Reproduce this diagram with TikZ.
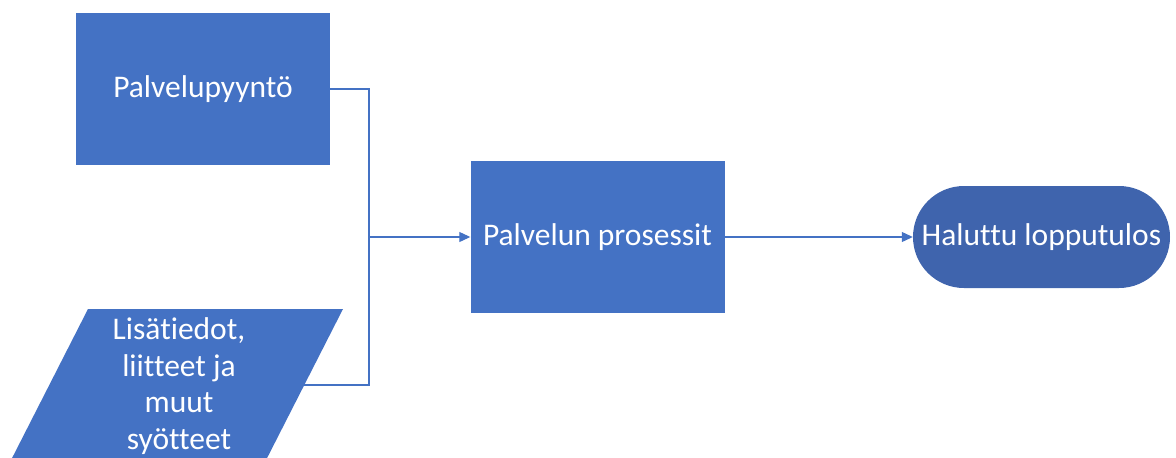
\documentclass[tikz,border=0pt]{standalone}
\usepackage{fontspec}
\setmainfont[Ligatures=NoCommon]{Carlito}
\usetikzlibrary{arrows.meta}
\definecolor{boxblue}{HTML}{4472C4}
\definecolor{endblue}{HTML}{3F64AD}
\tikzset{
  x=1pt, y=-1pt,
  procbox/.style={fill=boxblue, draw=none, text=white, minimum width=254pt, minimum height=152pt, inner sep=0pt, font=\fontsize{31.5}{36}\selectfont},
  endbox/.style={fill=endblue, draw=none, text=white, minimum width=257pt, minimum height=102pt, rounded corners=51pt, inner sep=0pt, font=\fontsize{31.5}{36}\selectfont},
  conn/.style={draw=boxblue, line width=1.1pt},
  arr/.style={conn, -{Triangle[length=11pt,width=10pt]}},
}
\begin{document}
\begin{tikzpicture}
\useasboundingbox (0,0) rectangle (1176,458);
% parallelogram
\fill[boxblue] (88,309) -- (343,309) -- (262,468) -- (7,468) -- cycle;
\node[text=white, align=center, inner sep=0pt, font=\fontsize{31.5}{36.5}\selectfont] (inp) at (179,386) {Lisätiedot,\\liitteet ja\\muut\\syötteet};
\coordinate (inpR) at (304,385);
\node[procbox] (req) at (203,89) {Palvelupyyntö};
\node[procbox] (proc) at (597.5,237) {Palvelun prosessit};
\node[endbox] (res) at (1041.5,237) {Haluttu lopputulos};
\coordinate (j) at (369,237);
\draw[conn] (req.east) -| (j);
\draw[conn] (inpR) -| (j);
\draw[arr] (j) -- (proc.west);
\draw[arr] (proc.east) -- (res.west);
\end{tikzpicture}
\end{document}
